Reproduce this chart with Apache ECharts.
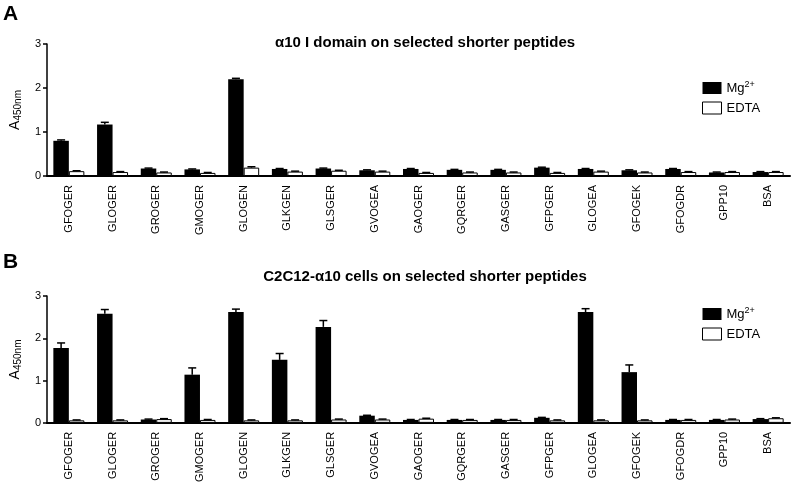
<!DOCTYPE html>
<html>
<head>
<meta charset="utf-8">
<script src="https://cdn.jsdelivr.net/npm/echarts@6/dist/echarts.min.js"></script>
<style>
  html, body { margin: 0; padding: 0; background: #fff; }
  #chart { width: 791px; height: 485px; }
</style>
</head>
<body>
<div id="chart"></div>
<script>
var categories = ['GFOGER', 'GLOGER', 'GROGER', 'GMOGER', 'GLOGEN', 'GLKGEN', 'GLSGER', 'GVOGEA', 'GAOGER',
  'GQRGER', 'GASGER', 'GFPGER', 'GLOGEA', 'GFOGEK', 'GFOGDR', 'GPP10', 'BSA']
var yTicks = [0, 1, 2, 3]

// panel A: alpha10 I domain
var mgA = [0.80, 1.17, 0.17, 0.15, 2.20, 0.16, 0.17, 0.13, 0.16, 0.14, 0.14, 0.19, 0.16, 0.13, 0.16, 0.08, 0.09]
var mgAErr = [0.02, 0.05, 0.01, 0.01, 0.02, 0.01, 0.01, 0.01, 0.01, 0.01, 0.01, 0.01, 0.01, 0.01, 0.01, 0.01, 0.01]
var edtaA = [0.11, 0.09, 0.08, 0.07, 0.19, 0.10, 0.12, 0.10, 0.07, 0.08, 0.08, 0.07, 0.10, 0.08, 0.09, 0.09, 0.09]
var edtaAErr = [0.01, 0.01, 0.01, 0.01, 0.02, 0.01, 0.01, 0.01, 0.01, 0.01, 0.01, 0.01, 0.01, 0.01, 0.01, 0.01, 0.01]

// panel B: C2C12-alpha10 cells
var mgB = [1.77, 2.58, 0.08, 1.14, 2.62, 1.49, 2.27, 0.17, 0.07, 0.07, 0.07, 0.12, 2.62, 1.20, 0.07, 0.07, 0.09]
var mgBErr = [0.12, 0.10, 0.01, 0.16, 0.07, 0.15, 0.15, 0.01, 0.01, 0.01, 0.01, 0.01, 0.08, 0.17, 0.01, 0.01, 0.01]
var edtaB = [0.06, 0.06, 0.09, 0.07, 0.06, 0.06, 0.08, 0.08, 0.10, 0.07, 0.07, 0.06, 0.06, 0.06, 0.07, 0.08, 0.11]
var edtaBErr = [0.01, 0.01, 0.01, 0.01, 0.01, 0.01, 0.01, 0.01, 0.01, 0.01, 0.01, 0.01, 0.01, 0.01, 0.01, 0.01, 0.01]

var FONT = 'Liberation Sans, Arial, sans-serif'
var BAR_W = 15.5

function errSeries(vals, errs, axisIdx, shift) {
  return {
    type: 'custom',
    xAxisIndex: axisIdx,
    yAxisIndex: axisIdx,
    z: 5,
    silent: true,
    data: vals.map(function (v, i) { return [i, v, errs[i]] }),
    renderItem: function (params, api) {
      var base = api.coord([api.value(0), api.value(1)])
      var top = api.coord([api.value(0), api.value(1) + api.value(2)])
      var x = base[0] + shift
      var st = { stroke: '#000', lineWidth: 1.5 }
      return {
        type: 'group',
        children: [
          { type: 'line', shape: { x1: x, y1: base[1], x2: x, y2: top[1] }, style: st },
          { type: 'line', shape: { x1: x - 4, y1: top[1], x2: x + 4, y2: top[1] }, style: st }
        ]
      }
    }
  }
}

function barSeries(name, vals, axisIdx, white) {
  return {
    name: name,
    type: 'bar',
    xAxisIndex: axisIdx,
    yAxisIndex: axisIdx,
    barWidth: BAR_W,
    barGap: '0%',
    data: vals,
    itemStyle: white
      ? { color: '#fff', borderColor: '#000', borderWidth: 1 }
      : { color: '#000', borderColor: '#000', borderWidth: 0 }
  }
}

function xAxisFor(idx) {
  return {
    type: 'category',
    gridIndex: idx,
    data: categories,
    axisLine: { lineStyle: { color: '#000', width: 2 } },
    axisTick: { show: false },
    axisLabel: { rotate: 90, color: '#000', fontSize: 11, fontFamily: FONT, margin: 9 }
  }
}

function yAxisFor(idx) {
  return {
    type: 'value',
    gridIndex: idx,
    min: yTicks[0],
    max: yTicks[yTicks.length - 1],
    interval: 1,
    name: '{a|A}{s|450nm}',
    nameLocation: 'middle',
    nameRotate: 90,
    nameGap: 24,
    nameTextStyle: {
      rich: {
        a: { fontSize: 14, fontFamily: FONT, color: '#000' },
        s: { fontSize: 10, fontFamily: FONT, color: '#000', padding: [6, 0, 0, 0] }
      }
    },
    axisLine: { show: true, lineStyle: { color: '#000', width: 1.5 } },
    axisTick: { show: true, length: 4, lineStyle: { color: '#000', width: 1.5 } },
    axisLabel: { color: '#000', fontSize: 11, fontFamily: FONT, margin: 6 },
    splitLine: { show: false }
  }
}

function legendAt(top) {
  return {
    left: 697,
    top: top,
    orient: 'vertical',
    itemWidth: 19,
    itemHeight: 12,
    itemGap: 7,
    icon: 'rect',
    data: [
      { name: 'Mg2+', itemStyle: { color: '#000' } },
      { name: 'EDTA', itemStyle: { color: '#fff', borderColor: '#000', borderWidth: 1 } }
    ],
    formatter: function (n) { return n === 'Mg2+' ? '{t|Mg}{sup|2+}' : '{t|' + n + '}' },
    textStyle: {
      rich: {
        t: { fontSize: 13, fontFamily: FONT, color: '#000' },
        sup: { fontSize: 9, fontFamily: FONT, color: '#000', padding: [0, 0, 7, 0] }
      }
    }
  }
}

var myChart = echarts.init(document.getElementById('chart'))
var option = {
  animation: false,
  backgroundColor: '#fff',
  title: [
    { text: 'A', left: -2, top: -1, textStyle: { fontSize: 21, fontWeight: 'bold', fontFamily: FONT, color: '#000' } },
    { text: 'α10 I domain on selected shorter peptides', left: 420, top: 30, textAlign: 'center',
      textStyle: { fontSize: 15, fontWeight: 'bold', fontFamily: FONT, color: '#000' } },
    { text: 'B', left: -2, top: 247, textStyle: { fontSize: 21, fontWeight: 'bold', fontFamily: FONT, color: '#000' } },
    { text: 'C2C12-α10 cells on selected shorter peptides', left: 420, top: 264, textAlign: 'center',
      textStyle: { fontSize: 15, fontWeight: 'bold', fontFamily: FONT, color: '#000' } }
  ],
  legend: [legendAt(75), legendAt(301)],
  grid: [
    { left: 41, right: 1, top: 44, height: 132 },
    { left: 41, right: 1, top: 296, height: 132 }
  ],
  xAxis: [xAxisFor(0), xAxisFor(1)],
  yAxis: [yAxisFor(0), yAxisFor(1)],
  series: [
    barSeries('Mg2+', mgA, 0, false),
    barSeries('EDTA', edtaA, 0, true),
    errSeries(mgA, mgAErr, 0, -BAR_W / 2),
    errSeries(edtaA, edtaAErr, 0, BAR_W / 2),
    barSeries('Mg2+', mgB, 1, false),
    barSeries('EDTA', edtaB, 1, true),
    errSeries(mgB, mgBErr, 1, -BAR_W / 2),
    errSeries(edtaB, edtaBErr, 1, BAR_W / 2)
  ]
}
myChart.setOption(option)
</script>
</body>
</html>
